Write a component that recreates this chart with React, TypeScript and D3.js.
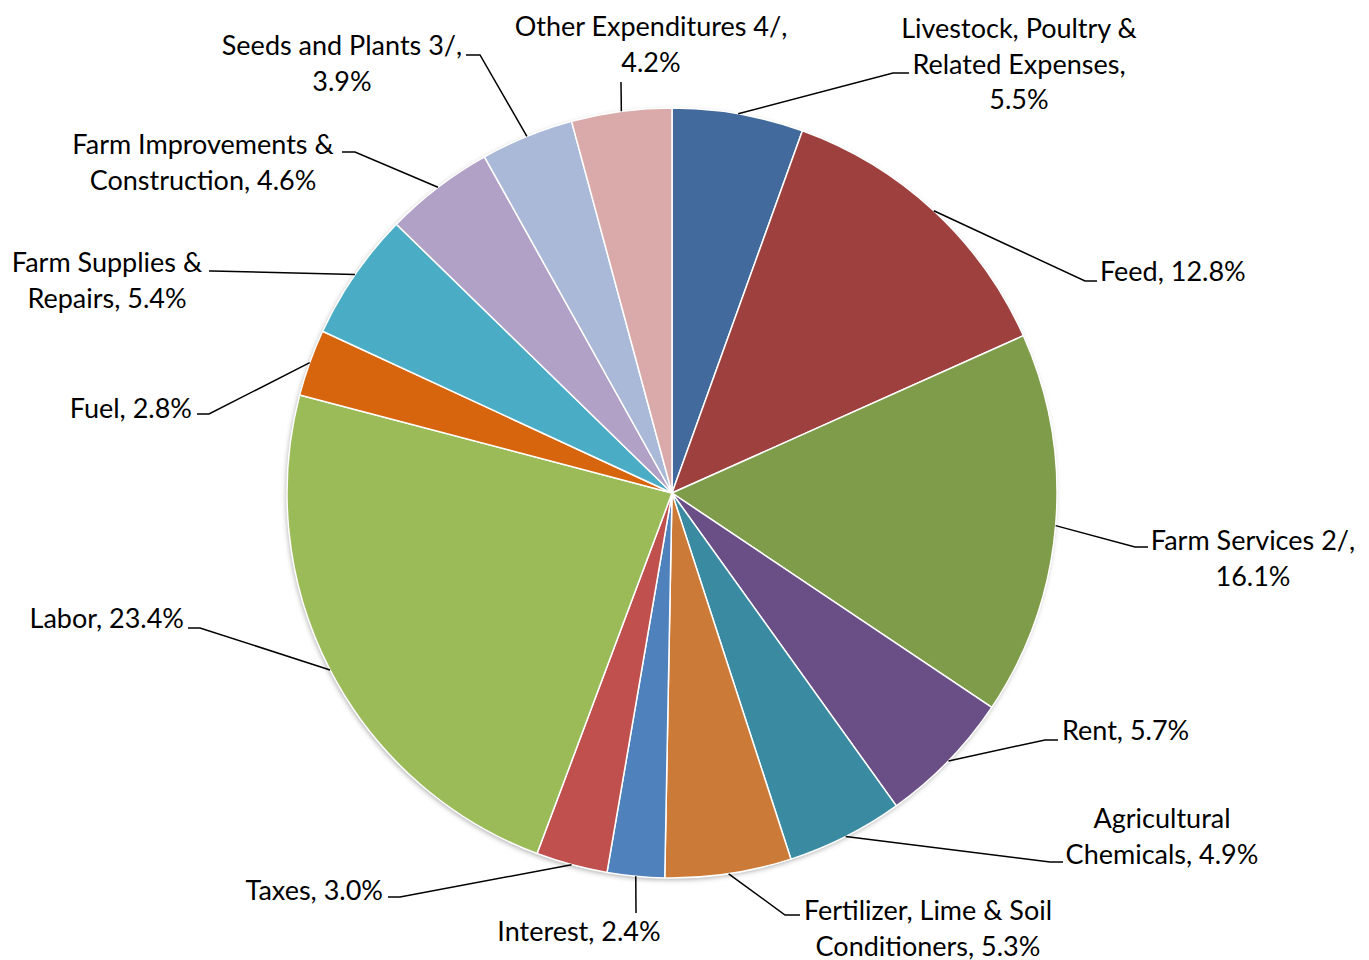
import React, { useEffect, useRef } from 'react';
import * as d3 from 'd3';

// Farm production expenditures, share of total (%)
const categories = [
    "Livestock, Poultry &\nRelated Expenses",
    "Feed",
    "Farm Services 2/",
    "Rent",
    "Agricultural\nChemicals",
    "Fertilizer, Lime & Soil\nConditioners",
    "Interest",
    "Taxes",
    "Labor",
    "Fuel",
    "Farm Supplies &\nRepairs",
    "Farm Improvements &\nConstruction",
    "Seeds and Plants 3/",
    "Other Expenditures 4/",
];
const shares = [5.5, 12.8, 16.1, 5.7, 4.9, 5.3, 2.4, 3.0, 23.4, 2.8, 5.4, 4.6, 3.9, 4.2];
const colors = [
    "#426a9c", "#9e413e", "#7f9c4a", "#6a4f86", "#3a8ba1", "#cc7a37", "#4f81bd",
    "#c0504d", "#9bbb59", "#d7650d", "#4bacc6", "#b2a1c7", "#a9b9d7", "#d9aaa9",
];

// label layout: elbow of leader line, end of leader line, text anchor and first baseline
interface LabelLayout {
    elbow: [number, number];
    end: [number, number];
    tx: number;
    ty: number;
    anchor: "start" | "middle" | "end";
    pctOwnLine: boolean;
}
const labelLayout: LabelLayout[] = [
    { elbow: [893, 73], end: [909, 73], tx: 1019, ty: 38, anchor: "middle", pctOwnLine: true },
    { elbow: [1085, 281], end: [1097, 281], tx: 1100, ty: 281, anchor: "start", pctOwnLine: false },
    { elbow: [1135, 547], end: [1148, 547], tx: 1253, ty: 550, anchor: "middle", pctOwnLine: true },
    { elbow: [1045, 740], end: [1058, 740], tx: 1062, ty: 740, anchor: "start", pctOwnLine: false },
    { elbow: [1050, 862], end: [1063, 862], tx: 1162, ty: 828, anchor: "middle", pctOwnLine: false },
    { elbow: [785, 915], end: [800, 915], tx: 928, ty: 920, anchor: "middle", pctOwnLine: false },
    { elbow: [636, 913], end: [636, 913], tx: 579, ty: 941, anchor: "middle", pctOwnLine: false },
    { elbow: [400, 897], end: [388, 897], tx: 383, ty: 900, anchor: "end", pctOwnLine: false },
    { elbow: [200, 628], end: [188, 628], tx: 184, ty: 628, anchor: "end", pctOwnLine: false },
    { elbow: [209, 414], end: [197, 414], tx: 192, ty: 418, anchor: "end", pctOwnLine: false },
    { elbow: [212, 271], end: [209, 271], tx: 107, ty: 272, anchor: "middle", pctOwnLine: false },
    { elbow: [355, 152], end: [342, 152], tx: 203, ty: 154, anchor: "middle", pctOwnLine: false },
    { elbow: [480, 55], end: [466, 55], tx: 342, ty: 55, anchor: "middle", pctOwnLine: true },
    { elbow: [621, 82], end: [621, 82], tx: 651, ty: 36, anchor: "middle", pctOwnLine: true },
];

const WIDTH = 1369;
const HEIGHT = 960;

export default function App() {
    const svgRef = useRef<SVGSVGElement>(null);

    useEffect(() => {
        if (!svgRef.current) return;
        const svg = d3.select(svgRef.current);
        svg.selectAll("*").remove();

        const cx = 672, cy = 493, radius = 385;
        const lineHeight = 35.5;

        const defs = svg.append("defs");
        const filter = defs.append("filter")
            .attr("id", "pieShadow")
            .attr("x", "-10%").attr("y", "-10%")
            .attr("width", "120%").attr("height", "120%");
        filter.append("feDropShadow")
            .attr("dx", -1).attr("dy", 2)
            .attr("stdDeviation", 2.5)
            .attr("flood-color", "#000")
            .attr("flood-opacity", 0.3);

        const pie = d3.pie<number>().sort(null).value(d => d);
        const arcs = pie(shares);
        const arc = d3.arc<d3.PieArcDatum<number>>().innerRadius(0).outerRadius(radius);

        const g = svg.append("g").attr("transform", `translate(${cx},${cy})`);

        // shadow base
        g.append("circle").attr("r", radius).attr("fill", "#fff").attr("filter", "url(#pieShadow)");

        g.selectAll("path.slice")
            .data(arcs)
            .join("path")
            .attr("class", "slice")
            .attr("d", arc)
            .attr("fill", (_, i) => colors[i])
            .attr("stroke", "#fff")
            .attr("stroke-width", 1.5)
            .attr("stroke-linejoin", "round");

        // leader lines
        const leaders = svg.append("g");
        arcs.forEach((a, i) => {
            const mid = (a.startAngle + a.endAngle) / 2;
            const sx = cx + radius * Math.sin(mid);
            const sy = cy - radius * Math.cos(mid);
            const L = labelLayout[i];
            const pts: [number, number][] = [[sx, sy], L.elbow, L.end];
            leaders.append("path")
                .attr("d", d3.line()(pts))
                .attr("fill", "none")
                .attr("stroke", "#000")
                .attr("stroke-width", 1.5);
        });

        // labels
        const labels = svg.append("g")
            .attr("font-family", "Lato, 'Open Sans', sans-serif")
            .attr("font-size", 27)
            .attr("fill", "#000");
        categories.forEach((name, i) => {
            const L = labelLayout[i];
            const pct = d3.format(".1f")(shares[i]) + "%";
            const lines = name.split("\n");
            if (L.pctOwnLine) {
                lines[lines.length - 1] += ",";
                lines.push(pct);
            } else {
                lines[lines.length - 1] += ", " + pct;
            }
            const t = labels.append("text")
                .attr("text-anchor", L.anchor);
            lines.forEach((ln, j) => {
                t.append("tspan")
                    .attr("x", L.tx)
                    .attr("y", L.ty + j * lineHeight)
                    .text(ln);
            });
        });
    }, []);

    return (
        <div style={{ position: 'absolute', left: 0, top: 0, background: '#fff' }}>
            <svg ref={svgRef} width={WIDTH} height={HEIGHT} style={{ display: 'block' }} />
        </div>
    );
}
